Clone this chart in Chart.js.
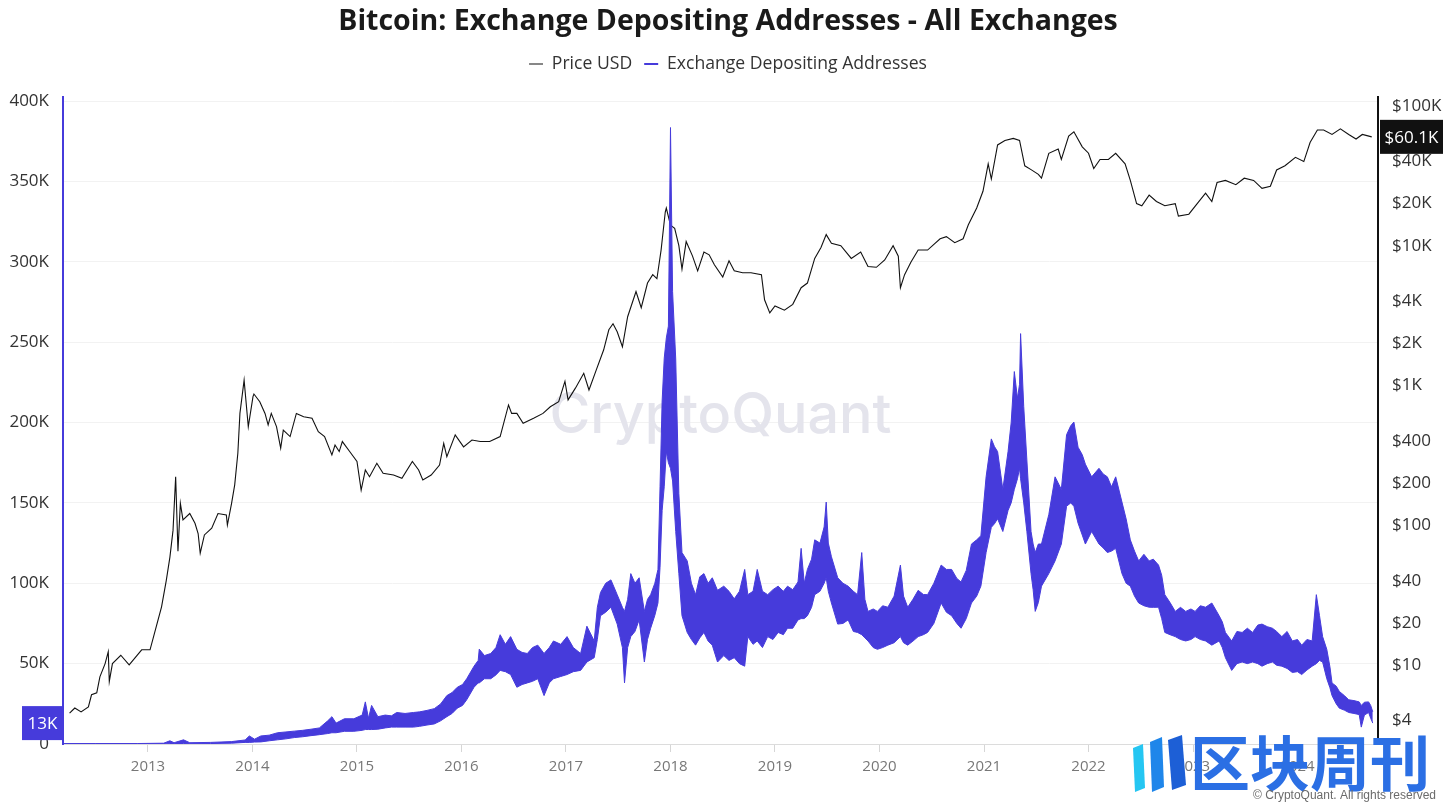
<!DOCTYPE html>
<html>
<head>
<meta charset="utf-8">
<script src="https://cdn.jsdelivr.net/npm/chart.js@4.4.1/dist/chart.umd.min.js"></script>
<style>
html,body{margin:0;padding:0;background:#fff;}
#wrap{width:1456px;height:812px;position:relative;}
</style>
</head>
<body>
<div id="wrap"><canvas id="c" width="1456" height="812"></canvas></div>
<script>
// ---------- DATA ----------
const chartTitle = 'Bitcoin: Exchange Depositing Addresses - All Exchanges';
const seriesNames = ['Price USD', 'Exchange Depositing Addresses'];
const yearTicks = [2013, 2014, 2015, 2016, 2017, 2018, 2019, 2020, 2021, 2022, 2023, 2024];
const addrTicks = [0, 50, 100, 150, 200, 250, 300, 350, 400]; // thousands
const priceTicks = [4, 10, 20, 40, 100, 200, 400, 1000, 2000, 4000, 10000, 20000, 40000, 100000];

// BTC price (USD), dates as decimal years
const priceDates = [
  2012.25, 2012.30, 2012.36, 2012.43, 2012.46, 2012.51, 2012.54, 2012.59, 2012.62, 2012.63, 2012.66, 2012.74, 2012.82, 2012.94,
  2013.02, 2013.08, 2013.13, 2013.175, 2013.21, 2013.24, 2013.265, 2013.287, 2013.31, 2013.335, 2013.40, 2013.45, 2013.48, 2013.50, 2013.54, 2013.61, 2013.67, 2013.75, 2013.76, 2013.80, 2013.83, 2013.86, 2013.88, 2013.92, 2013.96,
  2014.005, 2014.014, 2014.07, 2014.12, 2014.15, 2014.18, 2014.23, 2014.27, 2014.295, 2014.36, 2014.42, 2014.49, 2014.57, 2014.63, 2014.69, 2014.76, 2014.79, 2014.83, 2014.86, 2014.93,
  2015.00, 2015.04, 2015.08, 2015.12, 2015.19, 2015.25, 2015.35, 2015.43, 2015.53, 2015.59, 2015.63, 2015.71, 2015.79, 2015.83, 2015.86, 2015.94,
  2016.02, 2016.10, 2016.18, 2016.27, 2016.37, 2016.45, 2016.48, 2016.53, 2016.59, 2016.69, 2016.78, 2016.85, 2016.93, 2016.99,
  2017.02, 2017.09, 2017.17, 2017.22, 2017.29, 2017.36, 2017.41, 2017.45, 2017.49, 2017.54, 2017.59, 2017.67, 2017.72, 2017.78, 2017.83, 2017.87, 2017.91, 2017.95, 2017.96,
  2018.00, 2018.04, 2018.08, 2018.11, 2018.15, 2018.21, 2018.26, 2018.32, 2018.37, 2018.42, 2018.50, 2018.56, 2018.61, 2018.69, 2018.77, 2018.87, 2018.90, 2018.95,
  2019.00, 2019.09, 2019.17, 2019.25, 2019.31, 2019.38, 2019.44, 2019.49, 2019.54, 2019.63, 2019.73, 2019.82, 2019.89, 2019.97,
  2020.05, 2020.13, 2020.18, 2020.20, 2020.24, 2020.30, 2020.37, 2020.46, 2020.58, 2020.64, 2020.72, 2020.80, 2020.85, 2020.93, 2020.99,
  2021.04, 2021.07, 2021.13, 2021.20, 2021.28, 2021.34, 2021.39, 2021.45, 2021.52, 2021.55, 2021.62, 2021.71, 2021.74, 2021.81, 2021.86, 2021.94,
  2022.00, 2022.05, 2022.11, 2022.19, 2022.26, 2022.35, 2022.40, 2022.46, 2022.51, 2022.58, 2022.65, 2022.73, 2022.83, 2022.86, 2022.96,
  2023.04, 2023.12, 2023.18, 2023.23, 2023.31, 2023.41, 2023.49, 2023.58, 2023.66, 2023.74, 2023.80, 2023.88, 2023.98,
  2024.06, 2024.12, 2024.19, 2024.25, 2024.33, 2024.41, 2024.49, 2024.56, 2024.62, 2024.71
];
const priceValues = [
  4.5, 4.9, 4.6, 5.0, 6.1, 6.3, 8.2, 10.2, 12.4, 7.6, 10.2, 11.7, 10.0, 12.8,
  12.8, 18.8, 26, 40, 59, 92, 222, 65, 143, 109, 121, 103, 87, 63, 85, 95, 121, 118, 100, 143, 194, 327, 630, 1090, 506,
  830, 867, 763, 630, 521, 630, 507, 355, 478, 430, 630, 597, 581, 466, 430, 318, 374, 336, 396, 336,
  285, 178, 248, 222, 277, 235, 228, 216, 285, 248, 210, 228, 269, 385, 309, 442,
  363, 406, 396, 396, 430, 724, 630, 630, 536, 581, 630, 703, 765, 1070,
  787, 955, 1220, 927, 1290, 1790, 2500, 2760, 2420, 1890, 3100, 4700, 3600, 5400, 6200, 5800, 9300, 17400, 18600,
  14000, 13300, 10000, 6800, 10700, 8450, 6600, 9000, 8600, 7300, 5970, 7800, 6600, 6400, 6400, 6200, 4100, 3300,
  3700, 3450, 3800, 5000, 5400, 8100, 9700, 12000, 10400, 10000, 8100, 9000, 7100, 7000,
  7900, 10000, 8400, 5000, 6200, 7600, 9300, 9300, 11200, 11600, 10500, 11200, 14100, 18600, 24500,
  38500, 30000, 52600, 56600, 58600, 56600, 37300, 35000, 32400, 30400, 45800, 49200, 41400, 60800, 65300, 51000,
  45900, 35700, 41400, 41400, 45800, 38500, 29300, 20000, 19300, 23000, 20700, 19300, 20000, 16300, 16800,
  20000, 23800, 20700, 28300, 29300, 27300, 30400, 29300, 25700, 26600, 34800, 37300, 42900,
  40000, 54700, 67200, 67200, 62500, 68600, 62500, 58000, 62500, 60100
];

// Exchange depositing addresses (thousands): lower and upper edge of the daily band
const addrDates = [
  2012.19, 2012.5, 2012.9, 2013.15, 2013.21, 2013.25, 2013.34, 2013.40, 2013.6, 2013.8, 2013.93, 2013.97,
  2014.02, 2014.08, 2014.16, 2014.24, 2014.32, 2014.40, 2014.48, 2014.56, 2014.64, 2014.72, 2014.76, 2014.80, 2014.88, 2014.97,
  2015.05, 2015.08, 2015.11, 2015.14, 2015.20, 2015.27, 2015.33, 2015.38, 2015.46, 2015.54, 2015.60, 2015.67, 2015.74, 2015.80, 2015.86, 2015.91, 2015.96,
  2016.01, 2016.05, 2016.12, 2016.16, 2016.17, 2016.22, 2016.28, 2016.33, 2016.37, 2016.42, 2016.47, 2016.53, 2016.58, 2016.63, 2016.68, 2016.73, 2016.79, 2016.84, 2016.88, 2016.95,
  2017.01, 2017.07, 2017.14, 2017.20, 2017.27, 2017.30, 2017.33, 2017.38, 2017.43, 2017.49, 2017.54, 2017.56, 2017.59, 2017.62, 2017.66, 2017.70, 2017.75, 2017.78, 2017.81, 2017.85, 2017.88, 2017.90, 2017.92, 2017.94, 2017.96, 2017.98,
  2018.00, 2018.02, 2018.05, 2018.08, 2018.11, 2018.16, 2018.20, 2018.24, 2018.28, 2018.32, 2018.36, 2018.40, 2018.45, 2018.51, 2018.56, 2018.61, 2018.66, 2018.71, 2018.74, 2018.79, 2018.83, 2018.88, 2018.93, 2018.98,
  2019.03, 2019.08, 2019.12, 2019.17, 2019.22, 2019.25, 2019.28, 2019.31, 2019.35, 2019.38, 2019.43, 2019.47, 2019.49, 2019.51, 2019.54, 2019.60, 2019.65, 2019.70, 2019.75, 2019.79, 2019.83, 2019.86, 2019.89, 2019.94, 2019.98,
  2020.03, 2020.08, 2020.14, 2020.20, 2020.23, 2020.27, 2020.32, 2020.37, 2020.42, 2020.46, 2020.52, 2020.59, 2020.64, 2020.69, 2020.74, 2020.78, 2020.83, 2020.88, 2020.93, 2020.97,
  2021.02, 2021.07, 2021.10, 2021.13, 2021.18, 2021.23, 2021.26, 2021.29, 2021.32, 2021.34, 2021.35, 2021.38, 2021.41, 2021.45, 2021.47, 2021.49, 2021.52, 2021.55, 2021.62, 2021.68, 2021.74, 2021.79, 2021.83, 2021.86, 2021.90, 2021.94, 2021.97,
  2022.03, 2022.10, 2022.14, 2022.18, 2022.22, 2022.26, 2022.32, 2022.36, 2022.40, 2022.44, 2022.48, 2022.53, 2022.58, 2022.62, 2022.67, 2022.70, 2022.73, 2022.78, 2022.83, 2022.88, 2022.93, 2022.98,
  2023.02, 2023.07, 2023.12, 2023.18, 2023.25, 2023.28, 2023.31, 2023.37, 2023.42, 2023.47, 2023.52, 2023.57, 2023.62, 2023.66, 2023.71, 2023.76, 2023.80, 2023.85, 2023.90, 2023.95,
  2024.00, 2024.04, 2024.09, 2024.14, 2024.18, 2024.21, 2024.24, 2024.28, 2024.31, 2024.33, 2024.37, 2024.40, 2024.45, 2024.49, 2024.54, 2024.59, 2024.61, 2024.64, 2024.68, 2024.70, 2024.72
];
const addrLow = [
  0, 0, 0, 0, 0.3, 0.3, 0.3, 0.2, 0.3, 0.5, 1, 1,
  1.2, 1.3, 2, 2.6, 3.2, 4, 4.5, 5.2, 5.8, 6.5, 7, 7, 7.9, 7.9,
  8.5, 9, 9, 9, 9.2, 10, 10.5, 10.5, 10.5, 10.5, 11, 11.8, 12.5, 14.4, 17, 19, 22.3,
  24, 27.5, 35.3, 38, 38, 40.6, 40.6, 43, 45.8, 45, 43.2, 35.3, 37, 38, 39, 40.6, 30.1, 38, 40.6, 42,
  43.2, 45, 45.8, 51, 53.7, 65, 79.8, 82, 85.1, 74.6, 60, 38, 60, 66.8, 70, 77.2, 51, 65, 72, 80, 87.7, 110, 145.3, 160, 181.9, 175,
  171.5, 163.6, 132.2, 106, 79.8, 69.4, 65, 61.5, 66, 69.4, 64, 61.5, 51, 55, 52, 53.7, 50, 48.4, 66.8, 62, 64.1, 60, 66.8, 65,
  69.4, 68, 72, 72, 77.2, 78, 78, 79.8, 85, 92.9, 95, 100, 103.4, 95, 87.7, 74.6, 75, 77.2, 70, 69.4, 68, 66, 64.1, 60, 58.9,
  60, 61.5, 63, 66.8, 63, 61.5, 64, 66.8, 68, 69.4, 75, 87.7, 82, 79.8, 75, 72, 78, 87.7, 92, 98.2,
  119.1, 134.8, 137, 140.1, 132.2, 145.3, 150, 158.4, 165, 171.5, 165, 150, 132.2, 106, 96, 82.5, 88, 98.2, 106, 113.9, 124.4, 147.9, 150, 147.9, 137.4, 130, 124.4,
  132.2, 124.4, 122, 119.1, 120, 121.7, 106, 100, 98.2, 92, 87.7, 86, 85.1, 85, 85.1, 78, 69.4, 68, 66.8, 65, 64.1, 65,
  66.8, 65, 64.1, 61.5, 64.1, 60, 53.7, 45.8, 50, 51, 50, 51, 50, 48.4, 50, 51, 49, 48.4, 47, 44.5,
  45, 43.2, 46, 48.4, 50, 52, 51, 40.6, 35, 30.1, 25, 22.3, 21, 19.6, 19, 18.3, 10.5, 18, 19.6, 16, 13
];
const addrHigh = [
  0.3, 0.3, 0.3, 0.5, 2, 0.8, 2.6, 0.8, 1, 1.5, 2.5, 5,
  3, 5, 5.5, 7, 7.5, 8, 8.5, 9.2, 10, 14.4, 17, 13, 15.7, 15.7,
  18, 26.2, 16, 24, 17, 18, 17.5, 19.6, 19, 19.6, 20, 20.9, 22, 24.9, 30.1, 32, 35.3,
  37, 40.6, 48.4, 52, 59, 55, 56.3, 60, 68, 62, 66.8, 58.9, 57, 56.3, 60, 61.5, 56.3, 60, 64.1, 62,
  66.8, 60, 56.3, 73.3, 64.1, 85, 94.2, 100, 102.1, 92.9, 85, 82.5, 90, 106, 100, 103.4, 82.5, 90, 92.9, 100, 108.6, 160, 213.4, 240, 252.6, 260,
  383.5, 281.4, 239.5, 155.8, 119.1, 113.9, 100, 92.9, 104, 106, 100, 103.4, 95.6, 98.2, 95, 90.3, 95, 108.6, 92.9, 95, 108.6, 95, 92.9, 96,
  98.2, 95, 98.2, 96, 100.8, 121.7, 100, 108.6, 115, 127, 125, 135, 150.5, 125, 116.5, 103.4, 100, 98.2, 95, 92.9, 119.1, 90, 82.5, 84, 82.5,
  86, 85.1, 92, 111.3, 92, 85.1, 90, 95.6, 93, 92.9, 100, 111.3, 108.6, 108.6, 103, 100.8, 108, 124.4, 127, 129.6,
  166.2, 189.8, 185, 181.9, 158.4, 181.9, 200, 231.7, 215, 223.8, 255.3, 210, 176.7, 132.2, 124.4, 119.1, 124.4, 124.4, 142.7, 166.2, 158.4, 192.4, 198, 200.3, 184.6, 180, 174.1,
  166.2, 171.5, 168, 166.2, 160, 166.2, 150.5, 140, 127, 120, 113.9, 118, 113.9, 115, 111.3, 105, 92.9, 88, 82.5, 85, 82.5, 84,
  82.5, 86, 85.1, 87.7, 79.8, 76, 69.4, 64.1, 70, 69.4, 72, 69.4, 74, 74.6, 73, 72, 70, 66.8, 70, 64.1,
  65, 61.5, 65, 64.1, 92.9, 80, 66.8, 58.9, 48, 38, 36, 32.7, 30, 27.5, 27, 26.2, 24, 26, 26.2, 24, 20
];

// ---------- STYLE ----------
const FONT = "'Open Sans', 'Noto Sans', sans-serif";
const BLUE = '#463bdb';
const BLACK = '#111111';

const spacerPlugin = {
  id: 'spacer',
  beforeInit(chart) {
    const box = {
      position: 'top', weight: 100, fullSize: true, options: {},
      left: 0, top: 0, right: 0, bottom: 0, width: 0, height: 0,
      isHorizontal() { return true; },
      update(maxWidth) { this.width = maxWidth; this.height = 14.2; },
      draw() {}
    };
    Chart.layouts.addBox(chart, box);
  }
};

const watermarkPlugin = {
  id: 'watermark',
  beforeDatasetsDraw(chart) {
    const {ctx, chartArea: a} = chart;
    ctx.save();
    let size = 56;
    ctx.font = `500 ${size}px Inter, 'Open Sans', sans-serif`;
    const w = ctx.measureText('CryptoQuant').width;
    size = size * 342 / w;
    ctx.font = `500 ${size}px Inter, 'Open Sans', sans-serif`;
    ctx.fillStyle = '#e4e4ec';
    ctx.textAlign = 'center';
    ctx.textBaseline = 'middle';
    ctx.fillText('CryptoQuant', (a.left + a.right) / 2, (a.top + a.bottom) / 2 - 4);
    ctx.restore();
  }
};

const lastValuePlugin = {
  id: 'lastValue',
  afterDraw(chart) {
    const {ctx} = chart;
    const yA = chart.scales.yAddr, yP = chart.scales.yPrice;
    const lastAddr = addrLow[addrLow.length - 1];
    const lastPrice = priceValues[priceValues.length - 1];
    ctx.save();
    ctx.font = `17px ${FONT}`;
    ctx.textBaseline = 'middle';
    ctx.textAlign = 'center';
    let y = yA.getPixelForValue(lastAddr);
    ctx.fillStyle = BLUE;
    ctx.fillRect(yA.right - 41, y - 17, 41, 34);
    ctx.fillStyle = '#fff';
    ctx.fillText(Math.round(lastAddr) + 'K', yA.right - 20.5, y + 1);
    y = yP.getPixelForValue(lastPrice);
    ctx.fillStyle = BLACK;
    ctx.fillRect(yP.left + 2, y - 17, 63, 34);
    ctx.fillStyle = '#fff';
    ctx.fillText('$' + (lastPrice / 1000).toFixed(1) + 'K', yP.left + 33.5, y + 1);
    ctx.restore();
  }
};

const logoPlugin = {
  id: 'logo',
  afterDraw(chart) {
    const {ctx} = chart;
    ctx.save();
    const bars = [
      ['#25c6f2', [[1133, 748], [1143, 744], [1145, 788], [1135, 792]]],
      ['#1f86ea', [[1150, 742], [1162, 737], [1164, 787], [1152, 792]]],
      ['#1d5fd6', [[1168, 740], [1182, 735], [1186, 785], [1172, 790]]]
    ];
    bars.forEach(([c, pts]) => {
      ctx.fillStyle = c;
      ctx.beginPath();
      pts.forEach((p, i) => i ? ctx.lineTo(p[0], p[1]) : ctx.moveTo(p[0], p[1]));
      ctx.closePath();
      ctx.fill();
    });
    ctx.fillStyle = '#2b6fe4';
    ctx.font = "bold 60px 'Noto Sans CJK SC', sans-serif";
    ctx.textBaseline = 'middle';
    ctx.textAlign = 'left';
    ctx.fillText('区块周刊', 1190, 763);
    ctx.fillStyle = '#6b6b6b';
    ctx.font = "12px 'Liberation Sans', Arial, sans-serif";
    ctx.textAlign = 'right';
    ctx.fillText('© CryptoQuant. All rights reserved', 1436, 796);
    ctx.restore();
  }
};

const priceData = priceDates.map((d, i) => ({x: d, y: priceValues[i]}));
const lowData = addrDates.map((d, i) => ({x: d, y: addrLow[i]}));
const highData = addrDates.map((d, i) => ({x: d, y: addrHigh[i]}));

new Chart(document.getElementById('c'), {
  type: 'line',
  data: {
    datasets: [
      {label: seriesNames[0], data: priceData, yAxisID: 'yPrice', borderColor: BLACK, backgroundColor: BLACK,
       borderWidth: 1.1, pointRadius: 0, order: 2, fill: false},
      {label: seriesNames[1] + ' (low)', data: lowData, yAxisID: 'yAddr', borderColor: BLUE, backgroundColor: BLUE,
       borderWidth: 1, pointRadius: 0, order: 1, fill: false},
      {label: seriesNames[1], data: highData, yAxisID: 'yAddr', borderColor: BLUE, backgroundColor: BLUE,
       borderWidth: 1, pointRadius: 0, order: 1, fill: '-1'}
    ]
  },
  options: {
    responsive: false,
    animation: false,
    devicePixelRatio: 1,
    layout: {padding: 0},
    plugins: {
      title: {display: true, text: chartTitle, color: '#1a1a1a',
              font: {family: FONT, size: 28.5, weight: 'bold'}, padding: {top: 5, bottom: 4}},
      legend: {
        display: true, position: 'top',
        labels: {
          usePointStyle: true, pointStyle: 'line', pointStyleWidth: 14,
          color: '#333', font: {family: FONT, size: 17.6}, padding: 12,
          sort: (a, b) => a.datasetIndex - b.datasetIndex,
          generateLabels(chart) {
            const items = Chart.defaults.plugins.legend.labels.generateLabels(chart);
            return items.filter(it => it.datasetIndex !== 1).map(it => {
              it.lineWidth = it.datasetIndex === 2 ? 2 : 1.2;
              return it;
            });
          }
        }
      },
      tooltip: {enabled: false}
    },
    scales: {
      x: {
        type: 'linear', min: 2012.187, max: 2024.77,
        afterBuildTicks(axis) { axis.ticks = yearTicks.map(v => ({value: v})); },
        afterFit(s) { s.height = 68; },
        ticks: {callback: v => String(v), color: '#777', font: {family: FONT, size: 15}, padding: 6, maxRotation: 0, autoSkip: false},
        grid: {drawOnChartArea: false, drawTicks: true, tickLength: 8, color: '#d6d6d6'},
        border: {color: '#dcdcdc', width: 1}
      },
      yAddr: {
        type: 'linear', position: 'left', min: 0, max: 402.5,
        afterBuildTicks(axis) { axis.ticks = addrTicks.map(v => ({value: v})); },
        afterFit(s) { s.width = 63; },
        ticks: {callback: v => v === 0 ? '0' : v + 'K', color: '#333', font: {family: FONT, size: 17}, padding: 14},
        grid: {color: '#f2f2f2', drawTicks: false},
        border: {color: BLUE, width: 2}
      },
      yPrice: {
        type: 'logarithmic', position: 'right', min: 2.71, max: 115900,
        afterBuildTicks(axis) { axis.ticks = priceTicks.map(v => ({value: v})); },
        afterFit(s) { s.width = 78; },
        ticks: {callback: v => v >= 1000 ? '$' + (v / 1000) + 'K' : '$' + v, color: '#333', font: {family: FONT, size: 17}, padding: 14},
        grid: {drawOnChartArea: false, drawTicks: false},
        border: {color: BLACK, width: 2}
      }
    }
  },
  plugins: [spacerPlugin, watermarkPlugin, lastValuePlugin, logoPlugin]
});
</script>
</body>
</html>
